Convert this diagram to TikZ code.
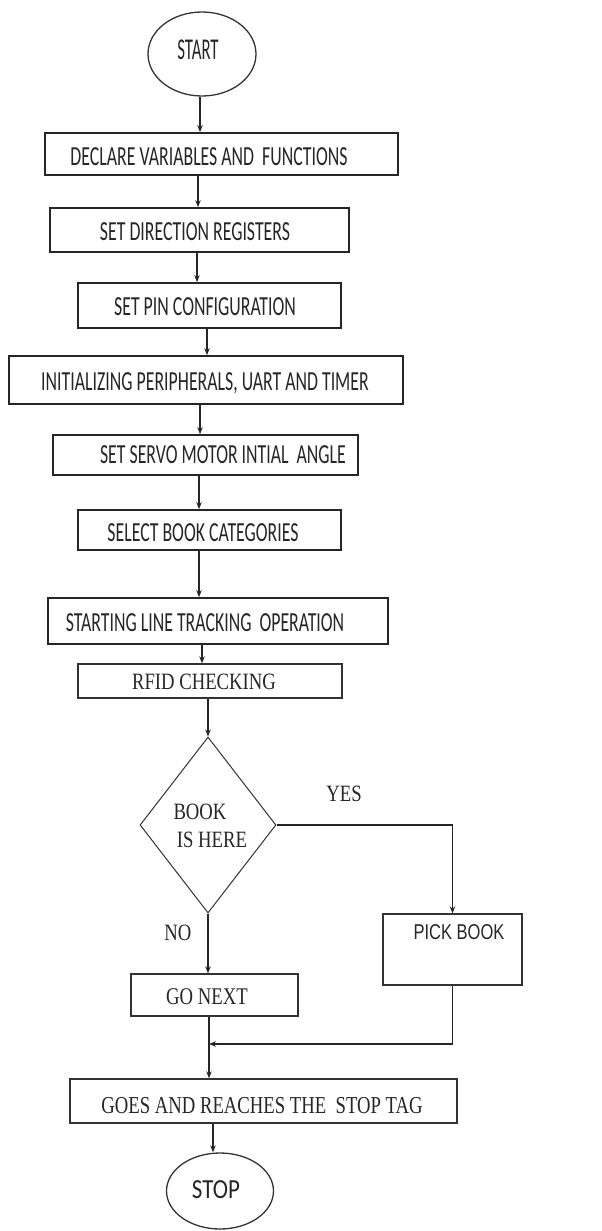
\documentclass[tikz,border=0pt]{standalone}
\usepackage{fontspec}
\usepackage{graphicx}
\usetikzlibrary{shapes.geometric,arrows.meta}
\newfontfamily\calfont{Carlito}
\newfontfamily\tmsfont{Liberation Serif}
\newfontfamily\arifont{Liberation Sans}
\newcommand{\vsc}[2]{\scalebox{1}[#1]{#2}}
\begin{document}
\begin{tikzpicture}[x=1pt,y=-1pt,
  box/.style={draw=black!85, line width=1.7pt, rectangle, inner sep=0pt},
  thinbox/.style={draw=black!80, line width=1.3pt, rectangle, inner sep=0pt},
  txt/.style={inner sep=0pt, text=black!85},
  cal/.style={txt, font=\calfont\fontsize{17.8}{20}\selectfont},
  tms/.style={txt, font=\tmsfont\fontsize{18.7}{22}\selectfont},
  ari/.style={txt, font=\arifont\fontsize{16.5}{20}\selectfont},
  oval/.style={ellipse, draw=black!80, line width=1.3pt, inner sep=0pt},
  arr/.style={draw=black!85, line width=1.3pt, -{Stealth[length=7pt,width=5.5pt]}},
  ln/.style={draw=black!85, line width=1.3pt}]
\useasboundingbox (0,0) rectangle (602,1231);

% shapes
\node[oval, minimum width=108pt, minimum height=84pt] (start) at (202,54) {};
\node[box, minimum width=353pt, minimum height=42pt] (b1) at (221.5,154) {};
\node[box, minimum width=299pt, minimum height=44pt] (b2) at (199.5,230) {};
\node[box, minimum width=263pt, minimum height=45pt] (b3) at (209.5,305.5) {};
\node[box, minimum width=394pt, minimum height=48pt] (b4) at (206,380) {};
\node[box, minimum width=305pt, minimum height=40pt] (b5) at (205.5,455) {};
\node[box, minimum width=263pt, minimum height=40pt] (b6) at (209.5,530) {};
\node[box, minimum width=340pt, minimum height=46pt] (b7) at (218,621) {};
\node[thinbox, minimum width=264pt, minimum height=34pt] (b8) at (210,681) {};
\node[diamond, draw=black!80, line width=1pt, inner sep=0pt, aspect=0.77,
      minimum width=136pt, minimum height=176pt] (dec) at (208,825) {};
\node[thinbox, minimum width=139pt, minimum height=71pt] (pick) at (452.5,949.5) {};
\node[thinbox, minimum width=167pt, minimum height=42pt] (next) at (214.5,995) {};
\node[thinbox, minimum width=387pt, minimum height=44pt] (goes) at (263.5,1101) {};
\node[oval, minimum width=107pt, minimum height=76pt] (stop) at (220,1191) {};

% texts
\node[txt, font=\calfont\fontsize{16.8}{20}\selectfont] (tstart) at (198,50) {\vsc{1.8}{START}};
\node[cal] (t1) at (209,157) {\vsc{1.55}{DECLARE VARIABLES AND\ \ FUNCTIONS}};
\node[cal] (t2) at (195,232) {\vsc{1.55}{SET DIRECTION REGISTERS}};
\node[cal] (t3) at (205,307) {\vsc{1.55}{SET PIN CONFIGURATION}};
\node[cal] (t4) at (205,383) {\vsc{1.55}{INITIALIZING PERIPHERALS, UART AND TIMER}};
\node[cal] (t5) at (223,455) {\vsc{1.55}{SET SERVO MOTOR INTIAL\ \ ANGLE}};
\node[cal] (t6) at (203,533) {\vsc{1.55}{SELECT BOOK CATEGORIES}};
\node[cal] (t7) at (205,623) {\vsc{1.55}{STARTING LINE TRACKING\ \ OPERATION}};
\node[tms] (t8) at (204,682) {\vsc{1.25}{RFID CHECKING}};
\node[tms] (tdec1) at (200,812) {\vsc{1.25}{BOOK}};
\node[tms] (tdec2) at (212,840) {\vsc{1.25}{IS HERE}};
\node[tms] (tyes) at (344,794) {\vsc{1.25}{YES}};
\node[tms] (tno) at (178,933) {\vsc{1.25}{NO}};
\node[ari] (tpick) at (459,932) {\vsc{1.3}{PICK BOOK}};
\node[tms] (tnext) at (207,997) {\vsc{1.28}{GO NEXT}};
\node[tms] (tgoes) at (262,1106) {\vsc{1.3}{GOES AND REACHES THE\ \ STOP TAG}};
\node[txt, font=\calfont\fontsize{23}{26}\selectfont] (tstop) at (216,1190) {\vsc{1.2}{STOP}};

% connectors
\draw[arr] ([xshift=-2pt]start.south) -- ([xshift=-2pt]start.south |- b1.north);
\draw[arr] ([xshift=-23.5pt]b1.south) -- ([xshift=-23.5pt]b1.south |- b2.north);
\draw[arr] ([xshift=-2.5pt]b2.south) -- ([xshift=-2.5pt]b2.south |- b3.north);
\draw[arr] ([xshift=-2.5pt]b3.south) -- ([xshift=-2.5pt]b3.south |- b4.north);
\draw[arr] ([xshift=-6pt]b4.south) -- ([xshift=-6pt]b4.south |- b5.north);
\draw[arr] ([xshift=-6.5pt]b5.south) -- ([xshift=-6.5pt]b5.south |- b6.north);
\draw[arr] ([xshift=-10.5pt]b6.south) -- ([xshift=-10.5pt]b6.south |- b7.north);
\draw[arr] ([xshift=-16pt]b7.south) -- ([xshift=-16pt]b7.south |- b8.north);
\draw[arr] (b8.south -| dec.north) -- (dec.north);
\draw[arr] (dec.south) -- (dec.south |- next.north);
\draw[arr] (dec.east) -| (pick.north);
\draw[ln, line width=2.4pt] (dec.east) -- ++(133,0);
\coordinate (join) at (209,1044);
\draw[arr] (pick.south) |- (join);
\draw[arr] ([xshift=-5.5pt]next.south) -- ([xshift=-5.5pt]next.south |- goes.north);
\draw[arr] ([xshift=-50.5pt]goes.south) -- ([xshift=-50.5pt]goes.south |- stop.north);
\end{tikzpicture}
\end{document}
